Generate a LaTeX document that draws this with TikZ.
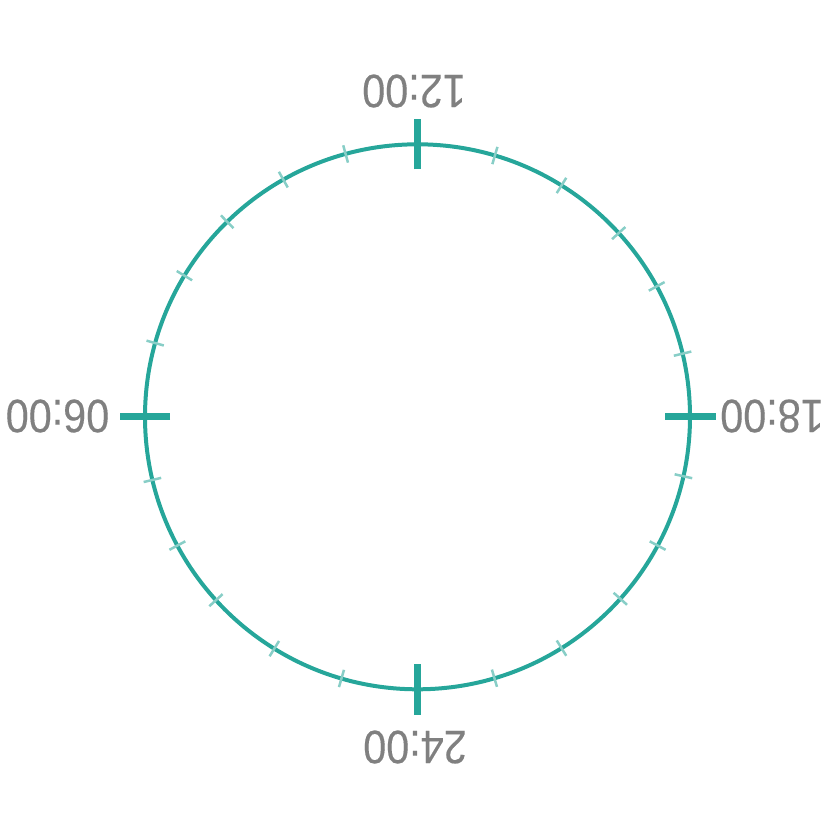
\documentclass[tikz,border=0pt]{standalone}
\usepackage{fontspec}
\setmainfont{Liberation Sans}
\newfontfamily\lblfont[FakeBold=0.3]{Liberation Sans}
\usetikzlibrary{calc}
\definecolor{teal1}{HTML}{26A69A}
\definecolor{lbl}{HTML}{808080}
\begin{document}
\begin{tikzpicture}[x=1pt,y=-1pt,
  ring/.style={draw=teal1,line width=4pt},
  major/.style={draw=teal1,line width=7pt},
  minor/.style={draw=teal1!55,line width=2.5pt},
  lab/.style={text=lbl,font=\lblfont\fontsize{47}{47}\selectfont,rotate=180,xscale=0.88,inner sep=0pt}]
\useasboundingbox (0,0) rectangle (836,836);
\coordinate (c) at (417.5,416.8);
\draw[ring] (c) circle[radius=272.5];
\foreach \a in {0,90,180,270}
  \draw[major] ($(c)+(\a:247.5)$) -- ($(c)+(\a:298)$);
\foreach \ang in {-73.5,-58.1,-42.4,-28.6,-13.4,
                  12.6,28.2,41.9,58.1,73.6,
                  -105.3,-119.5,-134.3,-148.8,-164.3,
                  166.6,151.8,137.7,121.7,106.2}
  \draw[minor] ($(c)+(\ang:263.5)$) -- ($(c)+(\ang:281.5)$);
\node[lab] (t12) at (414,91) {12:00};
\node[lab] (t24) at (415,747) {24:00};
\node[lab] (t06) at (57.5,416) {06:00};
\node[lab] (t18) at (772,416) {18:00};
\end{tikzpicture}
\end{document}
